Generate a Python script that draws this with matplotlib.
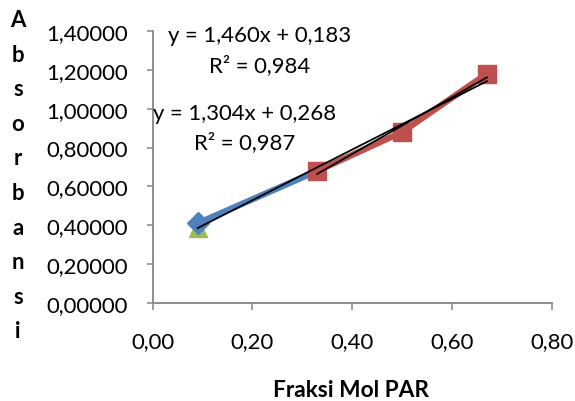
import numpy as np
import matplotlib
matplotlib.use("Agg")
import matplotlib.pyplot as plt

plt.rcParams['font.family'] = ['Lato', 'DejaVu Sans']

# data
frac_blue = [0.09, 0.33]
abs_blue = [0.41, 0.68]
frac_red = [0.33, 0.50, 0.67]
abs_red = [0.68, 0.88, 1.18]
frac_green = [0.09]
abs_green = [0.386]

# trendlines (from the labels on the chart)
trend_red = (1.460, 0.183, 0.984)
trend_all = (1.304, 0.268, 0.987)

x_ticks = [0.0, 0.2, 0.4, 0.6, 0.8]
y_ticks = [0.0, 0.2, 0.4, 0.6, 0.8, 1.0, 1.2, 1.4]

W, H = 575, 402
fig = plt.figure(figsize=(W / 100, H / 100), dpi=100)
ax = fig.add_axes([152.7 / W, 1 - 304 / H, 399 / W, 272 / H])

fs = 15.9
gray = '#868686'

ax.plot(frac_green, abs_green, linestyle='none', marker='^', markersize=13,
        color='#9BBB59', zorder=2)
ax.plot(frac_blue, abs_blue, color='#4F81BD', lw=4.5, marker='D', markersize=11,
        markevery=[0], zorder=3)
ax.plot(frac_red, abs_red, color='#C0504D', lw=4.5, marker='s', markersize=13,
        zorder=4)

# black trendlines
xr = np.array([min(frac_red), max(frac_red)])
ax.plot(xr, trend_red[0] * xr + trend_red[1], color='black', lw=1.3, zorder=5)
xa = np.array([min(frac_blue + frac_red), max(frac_blue + frac_red)])
ax.plot(xa, trend_all[0] * xa + trend_all[1], color='black', lw=1.3, zorder=5)

ax.set_xlim(0, 0.8)
ax.set_ylim(0, 1.4)
ax.set_xticks(x_ticks)
ax.set_yticks(y_ticks)
ax.set_xticklabels([f"{v:.2f}".replace('.', ',') for v in x_ticks], fontsize=fs)
ax.set_yticklabels([f"{v:.5f}".replace('.', ',') for v in y_ticks], fontsize=fs)

for s in ['top', 'right']:
    ax.spines[s].set_visible(False)
for s in ['left', 'bottom']:
    ax.spines[s].set_color(gray)
    ax.spines[s].set_linewidth(1.3)
ax.tick_params(axis='y', direction='out', length=4.5, width=1.1, color=gray, pad=13.5)
ax.tick_params(axis='x', direction='out', length=5, width=1.1, color=gray, pad=15.5)

# trendline labels
def ftxt(xp, yp, s, **kw):
    fig.text(xp / W, 1 - yp / H, s, ha='center', va='baseline', fontsize=fs, **kw)

ftxt(260, 41.7, "y = {:.3f}x + {:.3f}".format(*trend_red[:2]).replace('.', ','))
ftxt(260, 71.7, "R² = {:.3f}".format(trend_red[2]).replace('.', ','))
ftxt(245, 120, "y = {:.3f}x + {:.3f}".format(*trend_all[:2]).replace('.', ','))
ftxt(245, 149, "R² = {:.3f}".format(trend_all[2]).replace('.', ','))

# stacked y label
for i, ch in enumerate("Absorbansi"):
    ftxt(18, 27 + i * 34.6, ch, fontweight='bold')

fig.text(351 / W, 1 / H, "Fraksi Mol PAR", ha='center', va='bottom',
         fontsize=16.3, fontweight='bold')

fig.savefig("out.png", dpi=100)
